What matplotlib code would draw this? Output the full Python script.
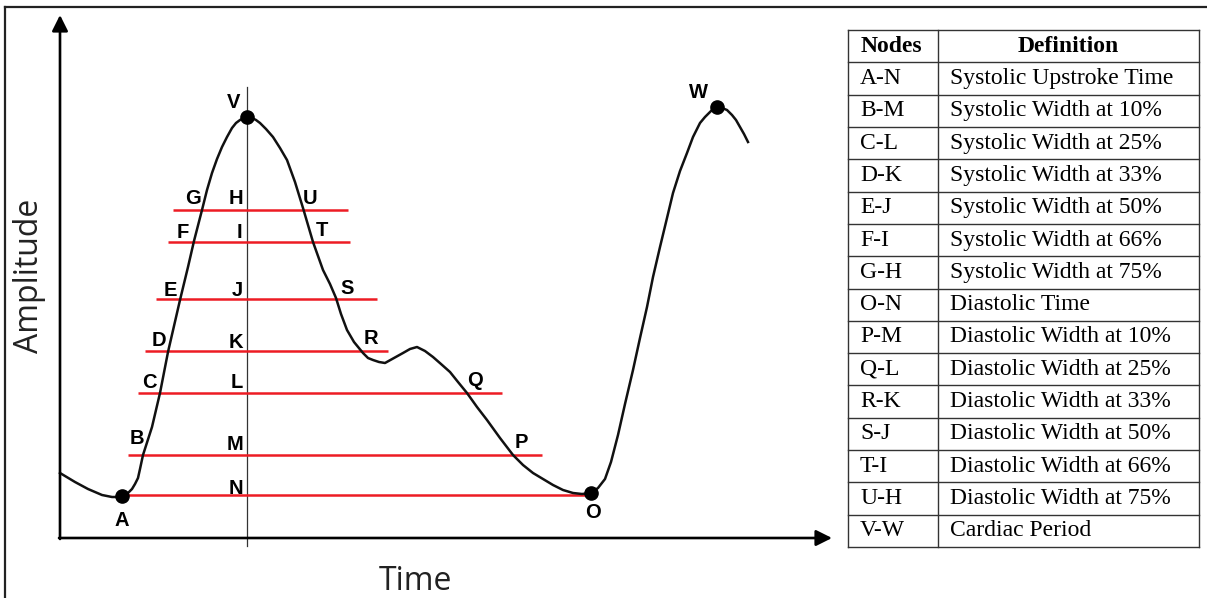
import numpy as np
import matplotlib
matplotlib.use("Agg")
import matplotlib.pyplot as plt
from matplotlib.lines import Line2D

# pulse waveform (time, amplitude) in arbitrary units, origin at the axes corner
time_pts = [0, 15, 28, 42, 52, 58, 62, 67, 72, 75, 78, 80, 83, 92, 100, 108,
            114, 120, 128, 134, 142, 147, 152, 157, 162, 167, 172, 176, 180,
            184, 187, 192, 196, 200, 206, 213, 220, 227, 235, 243, 248, 253,
            258, 263, 270, 276, 281, 287, 294, 303, 308, 313, 319, 325, 334,
            343, 350, 357, 365, 373, 381, 390, 398, 407, 417, 427, 440, 453,
            463, 473, 483, 493, 503, 513, 522, 531, 538, 545, 551, 558, 565,
            573, 580, 587, 593, 600, 607, 613, 620, 627, 633, 640, 645, 650,
            654, 657, 662, 667, 672, 676, 680, 684, 688]
amp_pts = [65, 56, 49, 43, 41, 41, 42, 44, 49, 54, 60, 69, 83, 111, 145, 186,
           212, 238, 271, 297, 328, 348, 365, 379, 391, 401, 410, 415, 418,
           420, 421, 420, 418, 415, 409, 401, 390, 378, 356, 330, 313, 296,
           282, 268, 254, 240, 224, 208, 196, 185, 180, 178, 176, 175, 180,
           185, 189, 191, 187, 181, 174, 166, 156, 145, 131, 118, 100, 83,
           73, 65, 59, 53, 48, 45, 44, 45, 50, 59, 76, 103, 134,
           168, 200, 231, 261, 291, 320, 345, 367, 385, 401, 415, 421, 426,
           430, 431, 430, 428, 423, 418, 411, 404, 396]

# fiducial points
node_names = ["A", "V", "O", "W"]
node_t = [62, 187, 531, 657]
node_a = [42, 421, 45, 431]

# width levels: amplitude, left and right end of each red line
level_amp = [328, 296, 239, 187, 145, 83, 43]
level_x0 = [113, 108, 96, 85, 78, 68, 62]
level_x1 = [288, 290, 317, 328, 442, 482, 528]

# point labels and where they sit
labels = ["V", "W", "G", "H", "U", "F", "I", "T", "E", "J", "S", "D", "K",
          "R", "C", "L", "Q", "B", "M", "P", "N", "A", "O"]
label_t = [174, 638, 133, 176, 250, 123, 179, 262, 110, 177, 287, 99, 176,
           311, 89, 177, 415, 77, 175, 461, 176, 62, 533]
label_a = [436, 446, 340, 340, 339, 306, 306, 307, 248, 248, 250, 198, 196,
           200, 156, 155, 158, 100, 94, 96, 50, 17, 25]

nodes = ["A-N", "B-M", "C-L", "D-K", "E-J", "F-I", "G-H", "O-N", "P-M",
         "Q-L", "R-K", "S-J", "T-I", "U-H", "V-W"]
definitions = ["Systolic Upstroke Time", "Systolic Width at 10%",
               "Systolic Width at 25%", "Systolic Width at 33%",
               "Systolic Width at 50%", "Systolic Width at 66%",
               "Systolic Width at 75%", "Diastolic Time",
               "Diastolic Width at 10%", "Diastolic Width at 25%",
               "Diastolic Width at 33%", "Diastolic Width at 50%",
               "Diastolic Width at 66%", "Diastolic Width at 75%",
               "Cardiac Period"]

W, H = 1207, 598
fig = plt.figure(figsize=(W / 100, H / 100), dpi=100)
fig.patch.set_facecolor("white")

ax = fig.add_axes([0, 0, 1, 1])
ax.set_xlim(-60, W - 60)
ax.set_ylim(-60, H - 60)
ax.axis("off")

# axes with arrow heads
arrow = dict(arrowstyle="-|>", lw=1.9, color="black", mutation_scale=24,
             shrinkA=0, shrinkB=0)
ax.annotate("", xy=(0, 523), xytext=(0, -1), arrowprops=arrow)
ax.annotate("", xy=(772, 0), xytext=(-1, 0), arrowprops=arrow)

# vertical marker through the systolic peak
ax.plot([node_t[1], node_t[1]], [-8, 451], color="#333333", lw=0.9)

for y, x0, x1 in zip(level_amp, level_x0, level_x1):
    ax.plot([x0, x1], [y, y], color="#ed1c24", lw=1.8, solid_capstyle="butt")

ax.plot(time_pts, amp_pts, color="#111111", lw=1.8, solid_joinstyle="round")
ax.plot(node_t, node_a, "o", color="black", ms=9.5)

for s, x, y in zip(labels, label_t, label_a):
    ax.text(x, y, s, ha="center", va="center", fontsize=14.5,
            fontweight="bold", family="Liberation Sans")

ax.text(-30, 262, "Amplitude", rotation=90, ha="center", va="center",
        fontsize=23, family="Open Sans", color="#222222")
ax.text(355, -44, "Time", ha="center", va="center", fontsize=23,
        family="Open Sans", color="#222222")

# definitions table
tx0, ty0, tw, th = 848, 30, 351, 517
tab = fig.add_axes([tx0 / W, 1 - (ty0 + th) / H, tw / W, th / H])
n_rows = len(nodes) + 1
tab.set_xlim(0, tw)
tab.set_ylim(n_rows, 0)
tab.axis("off")
col_split = 90
lc = "#333333"
for i in range(n_rows + 1):
    tab.plot([0, tw], [i, i], color=lc, lw=1.0, clip_on=False)
tab.plot([0, 0], [0, n_rows], color=lc, lw=1.0, clip_on=False)
tab.plot([tw, tw], [0, n_rows], color=lc, lw=1.0, clip_on=False)
tab.plot([col_split, col_split], [0, n_rows], color=lc, lw=1.0, clip_on=False)

serif = "Liberation Serif"
fs = 17
tab.text(13, 0.5, "Nodes", ha="left", va="center", fontsize=fs,
         fontweight="bold", family=serif)
tab.text((col_split + tw) / 2, 0.5, "Definition", ha="center", va="center",
         fontsize=fs, fontweight="bold", family=serif)
for i, (nd, df) in enumerate(zip(nodes, definitions)):
    tab.text(12, i + 1.5, nd, ha="left", va="center", fontsize=fs,
             family=serif)
    tab.text(102, i + 1.5, df, ha="left", va="center", fontsize=fs,
             family=serif)

# outer frame (left and top edges)
fig.add_artist(Line2D([5 / W, 5 / W], [0, 1 - 7 / H], color="#222222",
                      lw=1.6, transform=fig.transFigure))
fig.add_artist(Line2D([5 / W, 1], [1 - 7 / H, 1 - 7 / H], color="#222222",
                      lw=1.6, transform=fig.transFigure))

fig.savefig("out.png", dpi=100)
